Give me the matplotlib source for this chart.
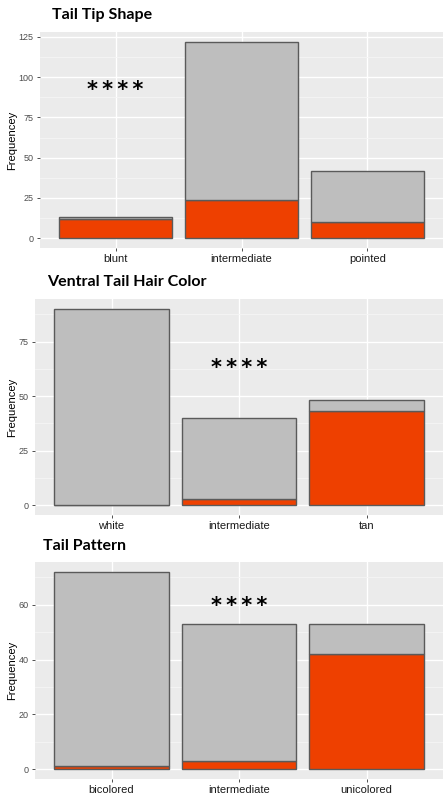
import numpy as np
import matplotlib
matplotlib.use("Agg")
import matplotlib.pyplot as plt

# tail trait counts: orange = lower (coloured) part, total = full bar height
tip_cats = ["blunt", "intermediate", "pointed"]
tip_total = [13, 122, 42]
tip_orange = [12, 24, 10]

hair_cats = ["white", "intermediate", "tan"]
hair_total = [90, 40, 48]
hair_orange = [0, 3, 43]

pattern_cats = ["bicolored", "intermediate", "unicolored"]
pattern_total = [72, 53, 53]
pattern_orange = [1, 3, 42]

titles = ["Tail Tip Shape", "Ventral Tail Hair Color", "Tail Pattern"]
yticks = [[0, 25, 50, 75, 100, 125], [0, 25, 50, 75], [0, 20, 40, 60]]
star_pos = [(1, 95), (2, 65), (2, 61.5)]

GREY = "#bebebe"
ORANGE = "#ee4000"
EDGE = "#5a5a5a"
PANEL = "#ebebeb"

W, H = 444, 797
fig = plt.figure(figsize=(W / 100, H / 100), dpi=100)

# axes boxes in pixels: left, top, right, bottom
boxes = [(40, 32, 443, 248), (35, 299, 443, 515), (35, 562, 443, 779)]
title_xy = [(52, 15), (47, 282), (43, 546)]

data = [(tip_cats, tip_total, tip_orange),
        (hair_cats, hair_total, hair_orange),
        (pattern_cats, pattern_total, pattern_orange)]

for i, (cats, total, orange) in enumerate(data):
    l, t, r, b = boxes[i]
    ax = fig.add_axes([l / W, 1 - b / H, (r - l) / W, (b - t) / H])
    ax.set_facecolor(PANEL)
    x = np.arange(1, len(cats) + 1)
    total = np.array(total)
    orange = np.array(orange)
    ax.bar(x, orange, width=0.9, color=ORANGE, edgecolor=EDGE, linewidth=1, zorder=3)
    ax.bar(x, total - orange, bottom=orange, width=0.9, color=GREY,
           edgecolor=EDGE, linewidth=1, zorder=3)

    top = total.max()
    ax.set_xlim(0.4, 3.6)
    ax.set_ylim(-0.05 * top, top * 1.05)
    ax.set_xticks(x)
    ax.set_xticklabels(cats, fontsize=8, family="Liberation Sans", color="#1a1a1a")
    yt = yticks[i]
    ax.set_yticks(yt)
    ax.set_yticklabels([str(v) for v in yt], fontsize=6.5, family="Liberation Sans",
                       color="#4d4d4d")
    step = yt[1] - yt[0]
    ax.set_yticks(np.arange(step / 2, top * 1.05, step), minor=True)
    ax.grid(which="major", color="white", linewidth=1.0, zorder=0)
    ax.grid(which="minor", axis="y", color="#f5f5f5", linewidth=0.6, zorder=0)
    ax.tick_params(which="major", length=2.5, width=0.6, color="#333333", pad=2)
    ax.tick_params(which="minor", length=0)
    for s in ax.spines.values():
        s.set_visible(False)
    ax.set_axisbelow(True)
    ax.set_ylabel("Frequencey", fontsize=8, family="Liberation Sans", labelpad=1)

    # significance stars; the asterisk glyph sits high, so nudge it down
    sx, sy = star_pos[i]
    ax.annotate("*\u2009*\u2009*\u2009*", xy=(sx, sy), xytext=(0, -3.6),
                textcoords="offset points", ha="center", va="center", fontsize=15,
                fontweight="bold", family="DejaVu Sans", zorder=4)

    tx, ty = title_xy[i]
    fig.text(tx / W, 1 - ty / H, titles[i], ha="left", va="center",
             fontsize=11.5, fontweight="bold", family="Lato")

fig.savefig("out.png", dpi=100, facecolor="white")
